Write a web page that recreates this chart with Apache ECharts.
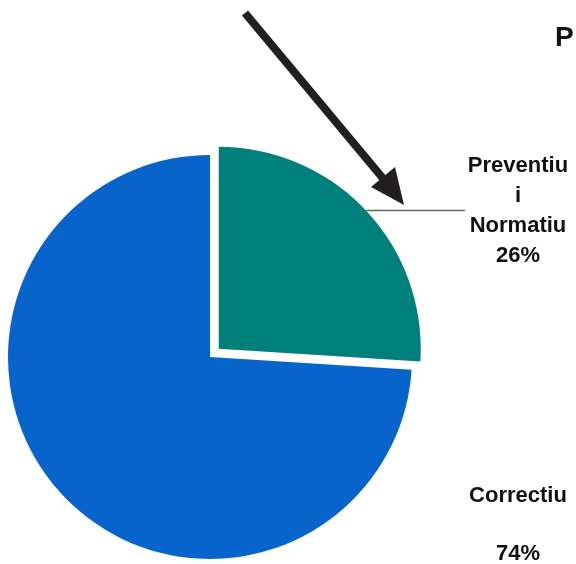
<!DOCTYPE html>
<html>
<head>
<meta charset="utf-8">
<script src="https://cdn.jsdelivr.net/npm/echarts@6/dist/echarts.min.js"></script>
<style>
  html, body { margin: 0; padding: 0; background: #fff; }
  #chart { width: 576px; height: 564px; }
</style>
</head>
<body>
<div id="chart"></div>
<script>
// slice data (clockwise from 12 o'clock)
var sliceNames = ['Preventiu\ni\nNormatiu', 'Correctiu'];
var sliceValues = [26, 74];
var sliceColors = ['#01807B', '#0764CB'];

var chart = echarts.init(document.getElementById('chart'));

var option = {
  animation: false,
  backgroundColor: '#fff',
  title: {
    text: 'P',
    left: 555,
    top: 24,
    padding: 0,
    textStyle: { fontFamily: 'Liberation Sans', fontWeight: 'bold', fontSize: 28, color: '#111' }
  },
  graphic: [
    // annotation arrow
    {
      type: 'line',
      shape: { x1: 245, y1: 13, x2: 386, y2: 182 },
      style: { stroke: '#231F20', lineWidth: 8 }
    },
    {
      type: 'polygon',
      shape: { points: [[404, 205], [371, 187], [395, 167]] },
      style: { fill: '#231F20' }
    }
  ],
  series: [
    {
      type: 'pie',
      center: [210, 357],
      radius: 202,
      startAngle: 90,
      clockwise: true,
      selectedMode: 'single',
      selectedOffset: 12,
      label: {
        show: true,
        position: 'outside',
        overflow: 'none',
        fontFamily: 'Liberation Sans',
        fontWeight: 'bold',
        fontSize: 22,
        color: '#111',
        formatter: function (p) {
          return p.name + '\n' + p.value + '%';
        }
      },
      labelLine: {
        show: true,
        length: 0,
        length2: 99,
        lineStyle: { color: '#666', width: 1.5 }
      },
      labelLayout: function (params) {
        if (params.dataIndex === 0) {
          return {
            dx: 48, dy: 0, align: 'center', verticalAlign: 'middle',
            labelLinePoints: params.labelLinePoints
          };
        }
        return { x: 518, y: 525, align: 'center', verticalAlign: 'middle' };
      },
      data: sliceNames.map(function (n, i) {
        var d = {
          name: n,
          value: sliceValues[i],
          selected: i === 0,
          itemStyle: { color: sliceColors[i] }
        };
        if (i === 0) {
          d.label = { lineHeight: 30, overflow: 'none' };
        } else {
          d.label = { position: 'inside', lineHeight: 58, overflow: 'none' };
          d.labelLine = { show: false };
        }
        return d;
      })
    }
  ]
};

chart.setOption(option);
</script>
</body>
</html>
